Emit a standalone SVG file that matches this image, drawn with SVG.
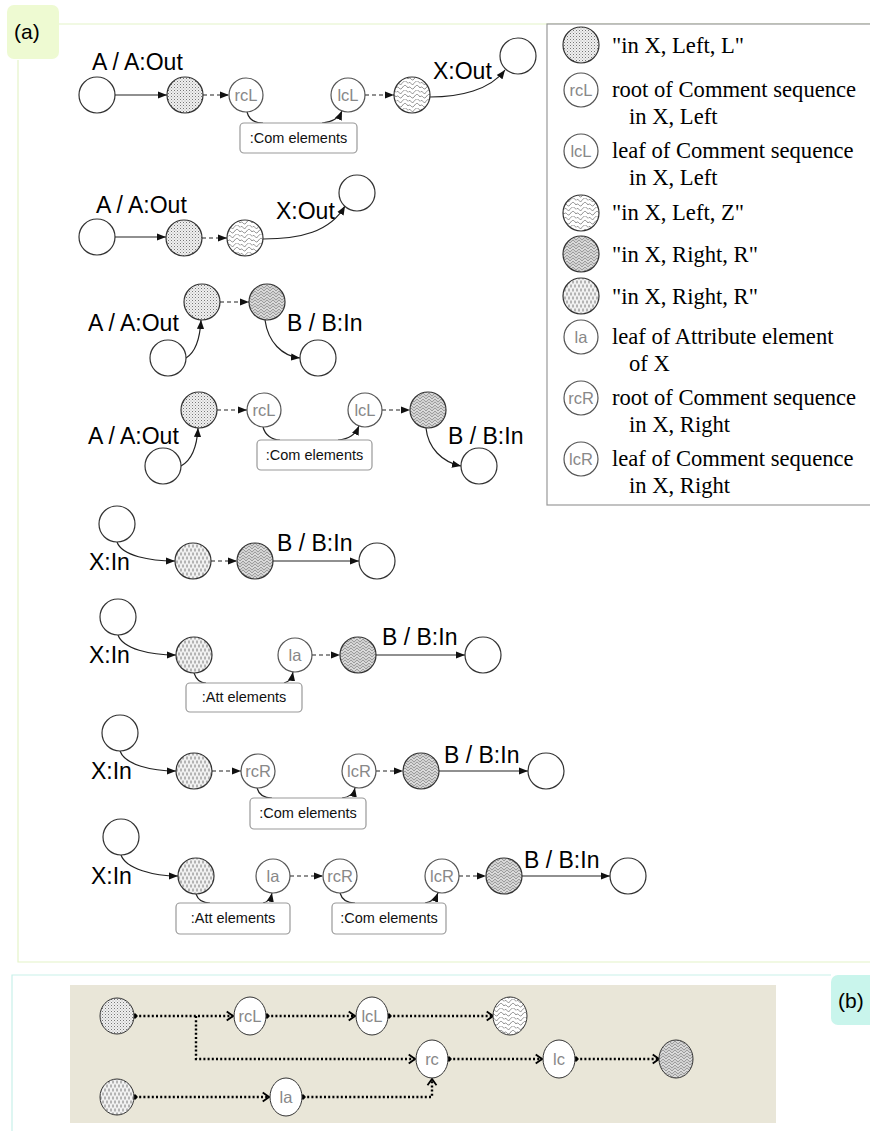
<svg xmlns="http://www.w3.org/2000/svg" width="870" height="1131" viewBox="0 0 870 1131">
<defs>
<style>
.n{stroke:#333;stroke-width:1.2}
.w{fill:#fff}
.t{fill:#fff;stroke:#555;stroke-width:1.2}
.nl{font-family:"Liberation Sans",Arial,sans-serif;font-size:16.5px;fill:#888;text-anchor:middle}
.el{font-family:"Liberation Sans",Arial,sans-serif;font-size:23px;fill:#000}
.bx{fill:#fff;stroke:#999;stroke-width:1.2}
.bt{font-family:"Liberation Sans",Arial,sans-serif;font-size:14.5px;fill:#111;text-anchor:middle}
.lg{font-family:"Liberation Serif","Times New Roman",serif;font-size:22.6px;fill:#000}
.e{fill:none;stroke:#222;stroke-width:1.2}
.ea{fill:none;stroke:#222;stroke-width:1.2;marker-end:url(#ah)}
.ed{fill:none;stroke:#222;stroke-width:1.2;stroke-dasharray:4 3;marker-end:url(#ah)}
.bd{fill:none;stroke:#000;stroke-width:2.4;stroke-dasharray:2 2.2}
.bn{stroke:#333;stroke-width:1}
.bw{fill:#fff}
</style>
<pattern id="pL" width="3" height="3" patternUnits="userSpaceOnUse"><rect width="3" height="3" fill="#f0f0f0"/><rect x="0" y="0" width="1" height="1" fill="#777"/><rect x="1.5" y="1.5" width="1" height="1" fill="#aaa"/></pattern>
<pattern id="pZ" width="12" height="9" patternUnits="userSpaceOnUse"><rect width="12" height="9" fill="#fff"/><path d="M0,2.5 C2.5,-1 3.5,6 6,2.5 S9.5,-1 12,2.5 M0,7 C2.5,3.5 3.5,10.5 6,7 S9.5,3.5 12,7" fill="none" stroke="#444" stroke-width="0.6"/></pattern>
<pattern id="pR" width="6" height="6" patternUnits="userSpaceOnUse"><rect width="6" height="6" fill="#d0d0d0"/><path d="M0,3 L3,0 L6,3 M0,6 L3,3 L6,6" fill="none" stroke="#707070" stroke-width="0.55"/><path d="M0,4.5 L3,1.5 L6,4.5" fill="none" stroke="#f4f4f4" stroke-width="0.6"/></pattern>
<pattern id="pV" width="4" height="8" patternUnits="userSpaceOnUse"><rect width="4" height="8" fill="#f2f2f2"/><path d="M1,0.5 V3.5 M3,4.5 V7.5" stroke="#555" stroke-width="0.8"/></pattern>
<marker id="ah" viewBox="0 0 10 10" refX="10" refY="5" markerWidth="9" markerHeight="9" orient="auto" markerUnits="userSpaceOnUse"><path d="M0,1 L10,5 L0,9 z" fill="#111"/></marker>
<marker id="chev" viewBox="0 0 10 12" refX="9" refY="6" markerWidth="9" markerHeight="12" orient="auto" markerUnits="userSpaceOnUse"><path d="M2,1 L9,6 L2,11" fill="none" stroke="#000" stroke-width="2"/></marker>
<marker id="dot" viewBox="0 0 6 6" refX="3" refY="3" markerWidth="6" markerHeight="6" markerUnits="userSpaceOnUse"><path d="M3,0 L6,3 L3,6 L0,3 z" fill="#000"/></marker>
</defs>

<g id="frame-a">
<path d="M59,24 H870 M18,60 V962 H870" fill="none" stroke="#e4f4c8" stroke-width="1.2"/>
<rect x="7" y="5" width="52" height="54" rx="7" fill="#eefad2"/>
<text x="14" y="39" font-family="Liberation Sans,Arial,sans-serif" font-size="21" fill="#000">(a)</text>
</g>
<g id="frame-b">
<path d="M831,975 H12 V1131" fill="none" stroke="#c9f1ea" stroke-width="1.2"/>
<rect x="831" y="975" width="45" height="50" rx="7" fill="#c9f5ec"/>
<text x="838" y="1008" font-family="Liberation Sans,Arial,sans-serif" font-size="21" fill="#000">(b)</text>
</g>

<g id="legend">
<rect x="547" y="24" width="330" height="481" fill="#fff" stroke="#999" stroke-width="1.2"/>
<circle cx="581" cy="45" r="18" class="n" fill="url(#pL)"/>
<text x="612" y="53" class="lg">"in X, Left, L"</text>
<circle cx="581" cy="90" r="17" class="t"/><text x="581" y="96" class="nl">rcL</text>
<text x="612" y="97" class="lg">root of Comment sequence</text>
<text x="629" y="124" class="lg">in X, Left</text>
<circle cx="581" cy="151" r="17" class="t"/><text x="581" y="157" class="nl">lcL</text>
<text x="612" y="158" class="lg">leaf of Comment sequence</text>
<text x="629" y="185" class="lg">in X, Left</text>
<circle cx="581" cy="213" r="18" class="n" fill="url(#pZ)"/>
<text x="612" y="220" class="lg">"in X, Left, Z"</text>
<circle cx="581" cy="254" r="18" class="n" fill="url(#pR)"/>
<text x="612" y="262" class="lg">"in X, Right, R"</text>
<circle cx="581" cy="296" r="18" class="n" fill="url(#pV)"/>
<text x="612" y="304" class="lg">"in X, Right, R"</text>
<circle cx="581" cy="337" r="17" class="t"/><text x="581" y="343" class="nl">la</text>
<text x="612" y="344" class="lg">leaf of Attribute element</text>
<text x="629" y="371" class="lg">of X</text>
<circle cx="581" cy="398" r="17" class="t"/><text x="581" y="404" class="nl">rcR</text>
<text x="612" y="405" class="lg">root of Comment sequence</text>
<text x="629" y="432" class="lg">in X, Right</text>
<circle cx="581" cy="459" r="17" class="t"/><text x="581" y="465" class="nl">lcR</text>
<text x="612" y="466" class="lg">leaf of Comment sequence</text>
<text x="629" y="493" class="lg">in X, Right</text>
</g>

<g id="connectors">
<path class="ea" d="M115,95 H167"/>
<path class="ed" d="M203,95 H229"/>
<path class="e" d="M247,112 C249,120 255,123 263,123"/>
<path class="ea" d="M322,123 C333,122 339,118 342,111"/>
<path class="ed" d="M365,95 H394"/>
<path class="ea" d="M430,97 C460,97 490,90 505,70"/>
<path class="ea" d="M115,237 H166"/>
<path class="ed" d="M202,238 H227"/>
<path class="ea" d="M263,239 C300,239 330,232 345,206"/>
<path class="ed" d="M220,302 H249"/>
<path class="ea" d="M186,358 C196,352 200,338 201,320"/>
<path class="ea" d="M265,320 C268,342 282,356 300,358"/>
<path class="ea" d="M181,466 C192,460 197,446 198,428"/>
<path class="ed" d="M217,410 H247"/>
<path class="e" d="M263,427 C265,435 272,440 280,440"/>
<path class="ea" d="M338,440 C349,439 355,435 359,426"/>
<path class="ed" d="M382,410 H410"/>
<path class="ea" d="M426,428 C428,448 442,462 461,466"/>
<path class="ea" d="M117,542 C122,556 150,561 175,561"/>
<path class="ed" d="M211,561 H237"/>
<path class="ea" d="M273,561 H359"/>
<path class="ea" d="M118,635 C123,649 150,655 176,655"/>
<path class="e" d="M194,673 C196,679 200,683 206,683"/>
<path class="ea" d="M284,683 C289,682 292,678 293,672"/>
<path class="ed" d="M312,655 H340"/>
<path class="ea" d="M376,655 H465"/>
<path class="ea" d="M120,751 C125,765 152,771 176,771"/>
<path class="ed" d="M212,771 H241"/>
<path class="e" d="M257,788 C259,795 265,798 272,798"/>
<path class="ea" d="M342,798 C350,797 354,793 355,788"/>
<path class="ed" d="M376,771 H403"/>
<path class="ea" d="M439,771 H528"/>
<path class="ea" d="M121,855 C126,869 154,876 178,876"/>
<path class="e" d="M196,894 C198,900 203,903 210,903"/>
<path class="ea" d="M263,903 C268,902 271,898 272,893"/>
<path class="ed" d="M290,876 H323"/>
<path class="e" d="M340,893 C342,900 348,903 355,903"/>
<path class="ea" d="M425,903 C432,902 436,898 438,893"/>
<path class="ed" d="M459,876 H486"/>
<path class="ea" d="M522,876 H610"/>
</g>

<g id="labels">
<text x="92" y="70" class="el">A / A:Out</text>
<text x="433" y="79" class="el">X:Out</text>
<text x="96" y="213" class="el">A / A:Out</text>
<text x="276" y="219" class="el">X:Out</text>
<text x="88" y="331" class="el">A / A:Out</text>
<text x="287" y="331" class="el">B / B:In</text>
<text x="88" y="444" class="el">A / A:Out</text>
<text x="448" y="444" class="el">B / B:In</text>
<text x="89" y="570" class="el">X:In</text>
<text x="277" y="551" class="el">B / B:In</text>
<text x="89" y="663" class="el">X:In</text>
<text x="382" y="645" class="el">B / B:In</text>
<text x="91" y="779" class="el">X:In</text>
<text x="444" y="763" class="el">B / B:In</text>
<text x="91" y="884" class="el">X:In</text>
<text x="524" y="868" class="el">B / B:In</text>
</g>

<g id="r1-a"><circle cx="97" cy="95" r="18" class="n w"/></g>
<g id="r1-b"><circle cx="185" cy="95" r="18" class="n" fill="url(#pL)"/></g>
<g id="r1-c"><circle cx="246" cy="95" r="17" class="t"/><text x="246" y="101" class="nl">rcL</text></g>
<g id="r1-d"><circle cx="348" cy="95" r="17" class="t"/><text x="348" y="101" class="nl">lcL</text></g>
<g id="r1-e"><circle cx="412" cy="95" r="18" class="n" fill="url(#pZ)"/></g>
<g id="r1-f"><circle cx="518" cy="56" r="18" class="n w"/></g>
<g id="r1-box"><rect x="240" y="123" width="117" height="30" rx="4" class="bx"/><text x="298.5" y="143" class="bt">:Com elements</text></g>

<g id="r2-a"><circle cx="97" cy="237" r="18" class="n w"/></g>
<g id="r2-b"><circle cx="184" cy="238" r="18" class="n" fill="url(#pL)"/></g>
<g id="r2-c"><circle cx="245" cy="238" r="18" class="n" fill="url(#pZ)"/></g>
<g id="r2-d"><circle cx="357" cy="193" r="18" class="n w"/></g>

<g id="r3-a"><circle cx="202" cy="302" r="18" class="n" fill="url(#pL)"/></g>
<g id="r3-b"><circle cx="267" cy="302" r="18" class="n" fill="url(#pR)"/></g>
<g id="r3-c"><circle cx="168" cy="358" r="18" class="n w"/></g>
<g id="r3-d"><circle cx="318" cy="358" r="18" class="n w"/></g>

<g id="r4-a"><circle cx="199" cy="410" r="18" class="n" fill="url(#pL)"/></g>
<g id="r4-b"><circle cx="264" cy="410" r="17" class="t"/><text x="264" y="416" class="nl">rcL</text></g>
<g id="r4-c"><circle cx="365" cy="410" r="17" class="t"/><text x="365" y="416" class="nl">lcL</text></g>
<g id="r4-d"><circle cx="428" cy="410" r="18" class="n" fill="url(#pR)"/></g>
<g id="r4-e"><circle cx="163" cy="466" r="18" class="n w"/></g>
<g id="r4-f"><circle cx="479" cy="466" r="18" class="n w"/></g>
<g id="r4-box"><rect x="257" y="440" width="115" height="30" rx="4" class="bx"/><text x="314.5" y="460" class="bt">:Com elements</text></g>

<g id="r5-a"><circle cx="117" cy="524" r="18" class="n w"/></g>
<g id="r5-b"><circle cx="193" cy="561" r="18" class="n" fill="url(#pV)"/></g>
<g id="r5-c"><circle cx="255" cy="561" r="18" class="n" fill="url(#pR)"/></g>
<g id="r5-d"><circle cx="377" cy="561" r="18" class="n w"/></g>

<g id="r6-a"><circle cx="118" cy="617" r="18" class="n w"/></g>
<g id="r6-b"><circle cx="194" cy="655" r="18" class="n" fill="url(#pV)"/></g>
<g id="r6-c"><circle cx="295" cy="655" r="17" class="t"/><text x="295" y="661" class="nl">la</text></g>
<g id="r6-d"><circle cx="358" cy="655" r="18" class="n" fill="url(#pR)"/></g>
<g id="r6-e"><circle cx="483" cy="655" r="18" class="n w"/></g>
<g id="r6-box"><rect x="186" y="683" width="116" height="29" rx="4" class="bx"/><text x="244" y="702" class="bt">:Att elements</text></g>

<g id="r7-a"><circle cx="120" cy="733" r="18" class="n w"/></g>
<g id="r7-b"><circle cx="194" cy="771" r="18" class="n" fill="url(#pV)"/></g>
<g id="r7-c"><circle cx="258" cy="771" r="17" class="t"/><text x="258" y="777" class="nl">rcR</text></g>
<g id="r7-d"><circle cx="359" cy="771" r="17" class="t"/><text x="359" y="777" class="nl">lcR</text></g>
<g id="r7-e"><circle cx="421" cy="771" r="18" class="n" fill="url(#pR)"/></g>
<g id="r7-f"><circle cx="546" cy="771" r="18" class="n w"/></g>
<g id="r7-box"><rect x="250" y="798" width="116" height="31" rx="4" class="bx"/><text x="308" y="818" class="bt">:Com elements</text></g>

<g id="r8-a"><circle cx="121" cy="837" r="18" class="n w"/></g>
<g id="r8-b"><circle cx="196" cy="876" r="18" class="n" fill="url(#pV)"/></g>
<g id="r8-c"><circle cx="273" cy="876" r="17" class="t"/><text x="273" y="882" class="nl">la</text></g>
<g id="r8-d"><circle cx="340" cy="876" r="17" class="t"/><text x="340" y="882" class="nl">rcR</text></g>
<g id="r8-e"><circle cx="442" cy="876" r="17" class="t"/><text x="442" y="882" class="nl">lcR</text></g>
<g id="r8-f"><circle cx="504" cy="876" r="18" class="n" fill="url(#pR)"/></g>
<g id="r8-g"><circle cx="628" cy="876" r="18" class="n w"/></g>
<g id="r8-box1"><rect x="176" y="903" width="114" height="31" rx="4" class="bx"/><text x="233" y="923" class="bt">:Att elements</text></g>
<g id="r8-box2"><rect x="332" y="903" width="114" height="31" rx="4" class="bx"/><text x="389" y="923" class="bt">:Com elements</text></g>

<g id="b-panel"><rect x="70" y="985" width="706" height="138" fill="#e9e6d8"/></g>
<g id="b-connectors">
<path class="bd" d="M135,1016 H233" marker-start="url(#dot)" marker-end="url(#chev)"/>
<path class="bd" d="M196,1016 V1059 H415" marker-end="url(#chev)"/>
<path class="bd" d="M267,1016 H355" marker-start="url(#dot)" marker-end="url(#chev)"/>
<path class="bd" d="M389,1016 H493" marker-start="url(#dot)" marker-end="url(#chev)"/>
<path class="bd" d="M449,1059 H542" marker-start="url(#dot)" marker-end="url(#chev)"/>
<path class="bd" d="M576,1059 H659" marker-start="url(#dot)" marker-end="url(#chev)"/>
<path class="bd" d="M135,1097 H269" marker-start="url(#dot)" marker-end="url(#chev)"/>
<path class="bd" d="M303,1097 H432 V1079" marker-start="url(#dot)" marker-end="url(#chev)"/>
</g>
<g id="b-L"><ellipse cx="117" cy="1016" rx="17" ry="18" class="bn" fill="url(#pL)"/></g>
<g id="b-rcL"><ellipse cx="250" cy="1016" rx="16" ry="19" class="bn bw"/><text x="250" y="1022" class="nl">rcL</text></g>
<g id="b-lcL"><ellipse cx="372" cy="1016" rx="16" ry="19" class="bn bw"/><text x="372" y="1022" class="nl">lcL</text></g>
<g id="b-Z"><ellipse cx="510" cy="1016" rx="17" ry="19" class="bn" fill="url(#pZ)"/></g>
<g id="b-rc"><ellipse cx="432" cy="1059" rx="16" ry="19" class="bn bw"/><text x="432" y="1065" class="nl">rc</text></g>
<g id="b-lc"><ellipse cx="559" cy="1059" rx="16" ry="19" class="bn bw"/><text x="559" y="1065" class="nl">lc</text></g>
<g id="b-R"><ellipse cx="676" cy="1059" rx="17" ry="19" class="bn" fill="url(#pR)"/></g>
<g id="b-V"><ellipse cx="117" cy="1097" rx="17" ry="18" class="bn" fill="url(#pV)"/></g>
<g id="b-la"><ellipse cx="286" cy="1097" rx="16" ry="19" class="bn bw"/><text x="286" y="1103" class="nl">la</text></g>
</svg>
